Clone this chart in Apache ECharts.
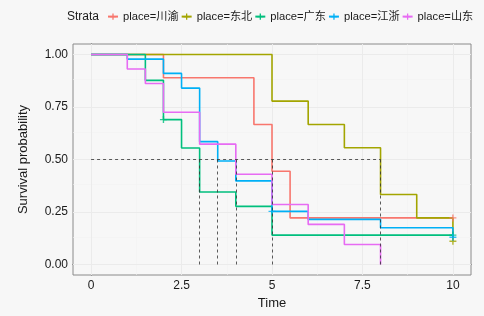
<!DOCTYPE html>
<html>
<head>
<meta charset="utf-8">
<script src="https://cdn.jsdelivr.net/npm/echarts@6/dist/echarts.min.js"></script>
<style>
  html, body { margin: 0; padding: 0; background: #f7f7f7; }
  #chart { width: 484px; height: 316px; }
</style>
</head>
<body>
<div id="chart"></div>
<script>
var strata = ['place=川渝', 'place=东北', 'place=广东', 'place=江浙', 'place=山东'];
var colors = ['#F8766D', '#A3A500', '#00BF7D', '#00B0F6', '#E76BF3'];

// step times and survival for each stratum
var timeCY = [0, 2, 4.5, 5, 5.5, 10];
var survCY = [1, 0.889, 0.667, 0.444, 0.222, 0.222];
var timeDB = [0, 5, 6, 7, 8, 9, 10];
var survDB = [1, 0.778, 0.667, 0.556, 0.333, 0.222, 0.111];
var timeGD = [0, 1.5, 2, 2.5, 3, 4, 5, 10];
var survGD = [1, 0.877, 0.69, 0.555, 0.345, 0.277, 0.14, 0.14];
var timeJZ = [0, 1, 2, 2.5, 3, 3.5, 4, 5, 6, 8, 10];
var survJZ = [1, 0.978, 0.91, 0.84, 0.585, 0.493, 0.398, 0.253, 0.215, 0.175, 0.13];
var timeSD = [0, 1, 1.5, 2, 3, 4, 5, 6, 7, 8];
var survSD = [1, 0.931, 0.862, 0.725, 0.573, 0.43, 0.286, 0.191, 0.095, 0];

// censor marks
var censorCY = [[10, 0.222]];
var censorDB = [[10, 0.111]];
var censorGD = [[2, 0.69], [10, 0.14]];
var censorJZ = [[5, 0.253], [10, 0.13]];
var censorSD = [];

// median survival lines
var medians = [3, 3.5, 4, 5, 8];
var medianLevel = 0.5;

var xTicks = [0, 2.5, 5, 7.5, 10];
var xMinor = [1.25, 3.75, 6.25, 8.75];
var yTicks = [0, 0.25, 0.5, 0.75, 1];
var yMinor = [0.125, 0.375, 0.625, 0.875];

var times = [timeCY, timeDB, timeGD, timeJZ, timeSD];
var survs = [survCY, survDB, survGD, survJZ, survSD];
var censors = [censorCY, censorDB, censorGD, censorJZ, censorSD];

var cross = 'path://M4,0H6V4H10V6H6V10H4V6H0V4H4Z';

var chart = echarts.init(document.getElementById('chart'));

var gridLines = [];
xMinor.forEach(function (v) { gridLines.push({ xAxis: v, lineStyle: { color: '#f1f1f1', width: 0.6, type: 'solid' } }); });
yMinor.forEach(function (v) { gridLines.push({ yAxis: v, lineStyle: { color: '#f1f1f1', width: 0.6, type: 'solid' } }); });
xTicks.forEach(function (v) { gridLines.push({ xAxis: v, lineStyle: { color: '#ebebeb', width: 1, type: 'solid' } }); });
yTicks.forEach(function (v) { gridLines.push({ yAxis: v, lineStyle: { color: '#ebebeb', width: 1, type: 'solid' } }); });

var medianLines = [[{ coord: [0, medianLevel] }, { coord: [Math.max.apply(null, medians), medianLevel] }]];
medians.forEach(function (m) {
  medianLines.push([{ coord: [m, medianLevel] }, { coord: [m, 0] }]);
});

var series = [{
  type: 'line',
  data: [],
  z: 1,
  markLine: {
    silent: true,
    z: 1,
    symbol: ['none', 'none'],
    label: { show: false },
    animation: false,
    lineStyle: { type: 'solid' },
    data: gridLines
  }
}];

strata.forEach(function (name, i) {
  series.push({
    name: name,
    type: 'line',
    step: 'end',
    symbol: cross,
    showSymbol: false,
    color: colors[i],
    lineStyle: { width: 1.6 },
    z: 3,
    data: times[i].map(function (t, k) { return [t, survs[i][k]]; })
  });
});

strata.forEach(function (name, i) {
  series.push({
    name: name,
    type: 'scatter',
    symbol: cross,
    symbolSize: 7,
    color: colors[i],
    z: 4,
    data: censors[i]
  });
});

series.push({
  type: 'line',
  data: [],
  z: 5,
  markLine: {
    silent: true,
    z: 6,
    symbol: ['none', 'none'],
    label: { show: false },
    animation: false,
    lineStyle: { color: '#333', width: 0.8, type: [3, 3] },
    data: medianLines
  }
});

var option = {
  animation: false,
  backgroundColor: '#f7f7f7',
  textStyle: { fontFamily: 'Liberation Sans, Arial, Noto Sans CJK SC, sans-serif' },
  title: {
    text: 'Strata',
    left: 67,
    top: 11,
    padding: 0,
    textStyle: { fontSize: 12, fontWeight: 'normal', color: '#1a1a1a' }
  },
  legend: {
    data: strata,
    left: 107,
    top: 11,
    padding: 0,
    itemWidth: 10,
    itemHeight: 8,
    itemGap: 2,
    textStyle: { fontSize: 11.2, color: '#1a1a1a' }
  },
  grid: {
    left: 73,
    right: 13,
    top: 44,
    bottom: 41,
    show: true,
    borderColor: '#8a8a8a',
    borderWidth: 1,
    backgroundColor: 'transparent'
  },
  xAxis: {
    type: 'value',
    min: -0.5,
    max: 10.5,
    name: 'Time',
    nameLocation: 'middle',
    nameGap: 21,
    nameTextStyle: { fontSize: 13, color: '#1a1a1a' },
    splitLine: { show: false },
    axisLine: { show: true, lineStyle: { color: '#555' } },
    axisTick: { show: true, customValues: xTicks, length: 3, lineStyle: { color: '#555' } },
    axisLabel: { customValues: xTicks, fontSize: 12, color: '#1a1a1a', margin: 5 }
  },
  yAxis: {
    type: 'value',
    min: -0.05,
    max: 1.05,
    name: 'Survival probability',
    nameLocation: 'middle',
    nameGap: 43,
    nameTextStyle: { fontSize: 13, color: '#1a1a1a' },
    splitLine: { show: false },
    axisLine: { show: true, lineStyle: { color: '#555' } },
    axisTick: { show: true, customValues: yTicks, length: 3, lineStyle: { color: '#555' } },
    axisLabel: {
      customValues: yTicks,
      fontSize: 12,
      color: '#1a1a1a',
      margin: 5,
      formatter: function (v) { return v.toFixed(2); }
    }
  },
  series: series
};

chart.setOption(option);
</script>
</body>
</html>
